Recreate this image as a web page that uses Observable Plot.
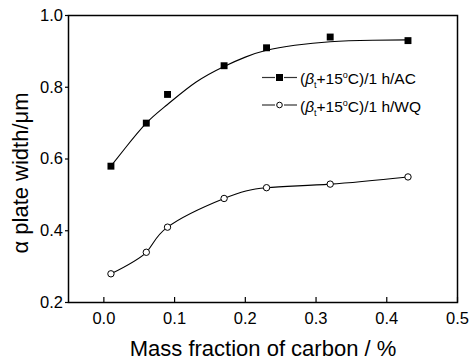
<!DOCTYPE html>
<html><head><meta charset="utf-8">
<script src="https://cdn.jsdelivr.net/npm/d3@7"></script>
<script src="https://cdn.jsdelivr.net/npm/@observablehq/plot@0.6"></script>
<style>body{margin:0;background:#fff}</style>
</head><body><div id="chart"></div>
<script>
// measured points
const carbon = [0.01, 0.06, 0.09, 0.17, 0.23, 0.32, 0.43];
const widthAC = [0.58, 0.70, 0.78, 0.86, 0.91, 0.94, 0.93];
const widthWQ = [0.28, 0.34, 0.41, 0.49, 0.52, 0.53, 0.55];
// fitted curve for AC series
const fitCarbon = [0.01, 0.03, 0.06, 0.09, 0.13, 0.17, 0.20, 0.23, 0.27, 0.32, 0.38, 0.43];
const fitAC = [0.58, 0.63, 0.70, 0.752, 0.814, 0.858, 0.884, 0.903, 0.917, 0.927, 0.931, 0.932];
const xTicks = [0, 0.1, 0.2, 0.3, 0.4, 0.5];
const yTicks = [0.2, 0.4, 0.6, 0.8, 1.0];
const xTitle = "Mass fraction of carbon / %";
const yTitle = "\u03b1 plate width/\u03bcm";
const legendSuffix = ["1 h/AC", "1 h/WQ"];

const ac = carbon.map((c, i) => ({c, w: widthAC[i]}));
const wq = carbon.map((c, i) => ({c, w: widthWQ[i]}));
const fit = fitCarbon.map((c, i) => ({c, w: fitAC[i]}));

const chart = Plot.plot({
  width: 469, height: 362,
  marginLeft: 68, marginRight: 12, marginTop: 15, marginBottom: 60,
  style: {fontFamily: "'Liberation Sans', Arial, sans-serif", fontSize: "16.5px", background: "#fff", color: "#000"},
  x: {domain: [-0.05, 0.5]},
  y: {domain: [0.2, 1.0]},
  marks: [
    Plot.axisX({ticks: xTicks, tickFormat: d3.format(".1f"), tickSize: 5, dy: -5, tickPadding: 10, label: null, fontSize: 16.5, stroke: "#000", strokeWidth: 1.2}),
    Plot.axisY({ticks: yTicks, tickFormat: d3.format(".1f"), tickSize: 3, tickPadding: 2.5, label: null, fontSize: 16.5, stroke: "#000", strokeWidth: 1.2}),
    Plot.text([xTitle], {frameAnchor: "bottom", textAnchor: "middle", lineAnchor: "middle", dy: 46, fontSize: 22}),
    Plot.text([yTitle], {frameAnchor: "left", textAnchor: "middle", lineAnchor: "middle", rotate: -90, dx: -48, dy: 14, fontSize: 22}),
    Plot.line(fit, {x: "c", y: "w", curve: "natural", stroke: "#000", strokeWidth: 1.1}),
    Plot.line(wq, {x: "c", y: "w", curve: "natural", stroke: "#000", strokeWidth: 1.1}),
    Plot.dot(ac, {x: "c", y: "w", symbol: "square", r: 3.9, fill: "#000", stroke: "none"}),
    Plot.dot(wq, {x: "c", y: "w", symbol: "circle", r: 3.2, fill: "#fff", stroke: "#000", strokeWidth: 1}),
    Plot.frame({stroke: "#000", strokeWidth: 1.5})
  ]
});
document.getElementById("chart").appendChild(chart);

// legend inside the plot
const svg = d3.select(chart);
const lg = svg.append("g")
  .attr("font-family", "'Liberation Sans', Arial, sans-serif")
  .attr("font-size", 15.5)
  .attr("text-anchor", "start");
const rows = [{y: 77.5, sym: "square"}, {y: 105, sym: "circle"}];
rows.forEach((r, i) => {
  lg.append("line").attr("x1", 262).attr("x2", 275).attr("y1", r.y).attr("y2", r.y).attr("stroke", "#333").attr("stroke-width", 1.2);
  lg.append("line").attr("x1", 284).attr("x2", 297).attr("y1", r.y).attr("y2", r.y).attr("stroke", "#333").attr("stroke-width", 1.2);
  if (r.sym === "square") lg.append("rect").attr("x", 276).attr("y", r.y - 3.5).attr("width", 7).attr("height", 7).attr("fill", "#000");
  else lg.append("circle").attr("cx", 279.5).attr("cy", r.y).attr("r", 2.8).attr("fill", "#fff").attr("stroke", "#000");
  const t = lg.append("text").attr("x", 300).attr("y", r.y + 6.5).attr("fill", "#000").attr("text-anchor", "start");
  t.append("tspan").text("(");
  t.append("tspan").attr("font-style", "italic").text("\u03b2");
  t.append("tspan").attr("font-size", 9).attr("dy", 4).text("t");
  t.append("tspan").attr("dy", -4).text("+15");
  t.append("tspan").attr("font-size", 9).attr("dy", -6).text("o");
  t.append("tspan").attr("dy", 6).text("C)/" + legendSuffix[i]);
});
</script>
</body></html>
